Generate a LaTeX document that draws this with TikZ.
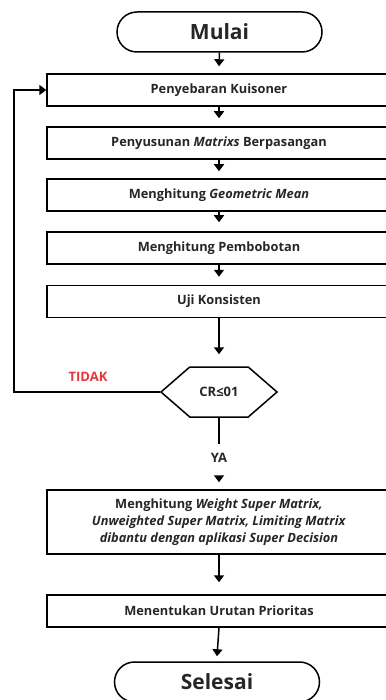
\documentclass[tikz,border=0pt]{standalone}
\usepackage{fontspec}
\setmainfont{Open Sans}
\usetikzlibrary{arrows.meta, shapes.symbols}
\definecolor{tidakred}{HTML}{E8363C}

\begin{document}
\begin{tikzpicture}[x=1pt, y=-1pt, line width=1.5pt,
  proc/.style={draw, rectangle, minimum width=344pt, minimum height=32pt,
    text=black!85, font=\fontsize{12.8}{17}\selectfont\bfseries, align=center},
  term/.style={draw, rounded corners=20pt, minimum width=205pt,
    minimum height=40pt, text=black!85, font=\fontsize{21}{25}\selectfont\bfseries},
  decide/.style={draw, signal, signal to=west and east,
    signal pointer angle=82, minimum width=116pt, minimum height=50pt,
    text=black!85, font=\fontsize{13}{15}\selectfont\bfseries},
  lbl/.style={text=black!85, font=\fontsize{13}{15}\selectfont\bfseries},
  arr/.style={-{Triangle[width=10pt,length=7pt]}}]

  \useasboundingbox (0,0) rectangle (385,700);

  % start
  \node[term] (mulai) at (219.5,32) {Mulai};

  % AHP steps
  \node[proc] (kuis) at (219,90) {Penyebaran Kuisoner};
  \node[proc] (matriks) at (219,143) {Penyusunan \textit{Matrixs} Berpasangan};
  \node[proc] (geomean) at (219,195) {Menghitung \textit{Geometric Mean}};
  \node[proc] (bobot) at (219,248) {Menghitung Pembobotan};
  \node[proc] (uji) at (219,301.5) {Uji Konsisten};

  % consistency check
  \node[decide] (cr) at (219,392) {CR≤01};
  \node[lbl] (ya) at (219,458) {YA};
  \node[lbl, text=tidakred] (tidak) at (88,377) {TIDAK};

  % ANP steps
  \node[proc, minimum height=64pt] (super) at (219,522)
    {Menghitung \textit{Weight Super Matrix,}\\
     \textit{Unweighted Super Matrix, Limiting Matrix}\\
     \textit{dibantu dengan aplikasi Super Decision}};
  \node[proc] (urut) at (219,611) {Menentukan Urutan Prioritas};

  % end
  \node[term] (selesai) at (217,682) {Selesai};

  % arrows down the main line
  \draw[arr] (mulai.south) -- ([yshift=7pt]kuis.north);
  \draw[arr] (kuis.south) -- ([yshift=8pt]matriks.north);
  \draw[arr] (matriks.south) -- ([yshift=7pt]geomean.north);
  \draw[arr] (geomean.south) -- ([yshift=9pt]bobot.north);
  \draw[arr] (bobot.south) -- ([yshift=8pt]uji.north);
  \draw[arr] (uji.south) -- ([yshift=12pt]cr.north);
  \draw (cr.south) -- ([yshift=5pt]ya.north);
  \draw[arr] ([yshift=-12pt]ya.south) -- ([yshift=7pt]super.north);
  \draw[arr] (super.south) -- ([yshift=12pt]urut.north);
  \draw[arr] (urut.south) -- ([yshift=5pt]selesai.north);

  % loop back when not consistent
  \draw[arr] (cr.west) -- ++(-146,0) |- (kuis.west);

\end{tikzpicture}
\end{document}
